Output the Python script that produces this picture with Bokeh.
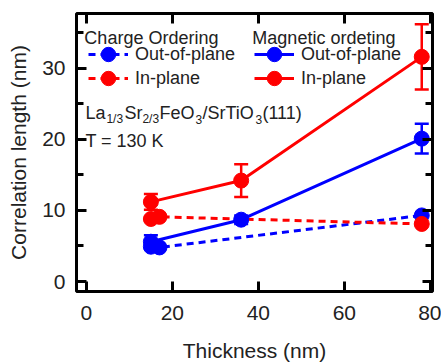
from bokeh.plotting import figure
from bokeh.models import (ColumnDataSource, Whisker, TeeHead, Legend, LegendItem, Label,
                          LinearAxis, FixedTicker, Range1d, CustomJSTickFormatter)
from bokeh.embed import file_html
from bokeh.resources import INLINE

# ---- data ----
co_oop_x = [15, 17, 78]
co_oop_y = [4.9, 4.8, 9.3]
co_ip_x = [15, 17, 78]
co_ip_y = [8.8, 9.1, 8.1]
mo_oop_x = [15, 36, 78]
mo_oop_y = [5.6, 8.7, 20.1]
mo_oop_err = [0.9, 0.6, 2.1]
mo_ip_x = [15, 36, 78]
mo_ip_y = [11.2, 14.2, 31.6]
mo_ip_err = [1.1, 2.3, 4.6]
x_ticks = [0, 20, 40, 60, 80]
y_ticks = [0, 10, 20, 30]
y_minor = [5, 15, 25, 35]

BLUE = "#0000ff"
RED = "#ff0000"
FONT = "Liberation Sans"
TXT = "#222222"

p = figure(width=441, height=364, x_range=Range1d(-2.3, 80.5), y_range=Range1d(-1.4, 37.7),
           output_backend="svg", toolbar_location=None,
           min_border_left=76, min_border_right=9, min_border_top=13, min_border_bottom=71,
           x_axis_label="Thickness (nm)", y_axis_label="Correlation length (nm)")
p.grid.visible = False
p.outline_line_color = "black"
p.outline_line_width = 3
p.background_fill_color = "white"
p.border_fill_color = "white"

xt = FixedTicker(ticks=x_ticks)
yt = FixedTicker(ticks=y_ticks, minor_ticks=y_minor)

for ax in p.xaxis:
    ax.ticker = xt
    ax.major_label_standoff = 14
    ax.axis_label_standoff = 16
for ax in p.yaxis:
    ax.ticker = yt
    ax.major_label_standoff = 11
    ax.axis_label_standoff = 9

for ax in list(p.xaxis) + list(p.yaxis):
    ax.axis_line_color = None
    ax.major_tick_in = 10
    ax.major_tick_out = 0
    ax.minor_tick_in = 7
    ax.minor_tick_out = 0
    ax.major_tick_line_width = 3
    ax.minor_tick_line_width = 3
    ax.major_tick_line_color = "black"
    ax.minor_tick_line_color = "black"
    ax.major_label_text_font = FONT
    ax.major_label_text_font_size = "21px"
    ax.major_label_text_color = TXT
    ax.axis_label_text_font = FONT
    ax.axis_label_text_font_size = "21px"
    ax.axis_label_text_font_style = "normal"
    ax.axis_label_text_color = TXT

blank = CustomJSTickFormatter(code="return ''")
top = LinearAxis(ticker=xt, formatter=blank, major_label_text_font_size="1px", axis_line_color=None,
                 major_tick_in=10, major_tick_out=0, major_tick_line_width=3,
                 major_label_standoff=0)
right = LinearAxis(ticker=yt, formatter=blank, major_label_text_font_size="1px", axis_line_color=None,
                   major_tick_in=10, major_tick_out=0, minor_tick_in=7, minor_tick_out=0,
                   major_tick_line_width=3, minor_tick_line_width=3, major_label_standoff=0)
p.add_layout(top, "above")
p.add_layout(right, "right")

# ---- sources ----
s_co_oop = ColumnDataSource(dict(x=co_oop_x, y=co_oop_y))
s_co_ip = ColumnDataSource(dict(x=co_ip_x, y=co_ip_y))
s_mo_oop = ColumnDataSource(dict(x=mo_oop_x, y=mo_oop_y,
                                 lo=[v - e for v, e in zip(mo_oop_y, mo_oop_err)],
                                 hi=[v + e for v, e in zip(mo_oop_y, mo_oop_err)]))
s_mo_ip = ColumnDataSource(dict(x=mo_ip_x, y=mo_ip_y,
                                lo=[v - e for v, e in zip(mo_ip_y, mo_ip_err)],
                                hi=[v + e for v, e in zip(mo_ip_y, mo_ip_err)]))

LW = 3
MS = 15
DASH = "7 5"

l_co_oop = p.line("x", "y", source=s_co_oop, line_color=BLUE, line_width=LW, line_dash=DASH)
l_co_ip = p.line("x", "y", source=s_co_ip, line_color=RED, line_width=LW, line_dash=DASH)
l_mo_oop = p.line("x", "y", source=s_mo_oop, line_color=BLUE, line_width=LW)
l_mo_ip = p.line("x", "y", source=s_mo_ip, line_color=RED, line_width=LW)

for src, col in ((s_mo_oop, BLUE), (s_mo_ip, RED)):
    w = Whisker(source=src, base="x", upper="hi", lower="lo", dimension="height",
                line_color=col, line_width=2.5, level="glyph",
                upper_head=TeeHead(size=14, line_color=col, line_width=2.5),
                lower_head=TeeHead(size=14, line_color=col, line_width=2.5))
    p.add_layout(w)

m_co_oop = p.scatter("x", "y", source=s_co_oop, size=MS, color=BLUE)
m_mo_oop = p.scatter("x", "y", source=s_mo_oop, size=MS, color=BLUE)
m_co_ip = p.scatter("x", "y", source=s_co_ip, size=MS, color=RED)
m_mo_ip = p.scatter("x", "y", source=s_mo_ip, size=MS, color=RED)

# ---- legends: one row per Legend so rows can sit closer than the glyph box ----
def legend_row(label, renderers, loc):
    lg = Legend(items=[LegendItem(label=label, renderers=renderers)], location=loc,
                background_fill_alpha=0, border_line_color=None,
                padding=0, margin=0, spacing=0,
                glyph_width=40, glyph_height=36, label_standoff=7,
                label_text_font=FONT, label_text_font_size="18px", label_text_color=TXT)
    p.add_layout(lg)

legend_row("Out-of-plane", [l_co_oop, m_co_oop], (12, 219))
legend_row("In-plane", [l_co_ip, m_co_ip], (12, 195))
legend_row("Out-of-plane", [l_mo_oop, m_mo_oop], (178, 219))
legend_row("In-plane", [l_mo_ip, m_mo_ip], (178, 195))

for t, xx in (("Charge Ordering", -0.47), ("Magnetic ordeting", 38.6)):
    p.add_layout(Label(x=xx, y=34.3, text=t, text_font=FONT, text_font_size="18px",
                       text_color=TXT, text_baseline="alphabetic"))

# ---- sample annotation with subscripts ----
pieces = ["La", "1/3", "Sr", "2/3", "FeO", "3", "/SrTiO", "3", "(111)"]
is_sub = [False, True, False, True, False, True, False, True, False]
offsets = [0, 21, 39, 57, 74, 110, 117, 170, 177]
x0 = -0.23
y_main = 23.7
y_sub = 22.85
for t, sub, off in zip(pieces, is_sub, offsets):
    p.add_layout(Label(x=x0, y=y_sub if sub else y_main, x_offset=off, text=t,
                       text_font=FONT, text_font_size="12px" if sub else "18px",
                       text_color=TXT, text_baseline="alphabetic"))
p.add_layout(Label(x=x0, y=19.8, text="T = 130 K", text_font=FONT, text_font_size="18px",
                   text_color=TXT, text_baseline="alphabetic"))

open("out.html", "w").write(file_html(p, INLINE))
